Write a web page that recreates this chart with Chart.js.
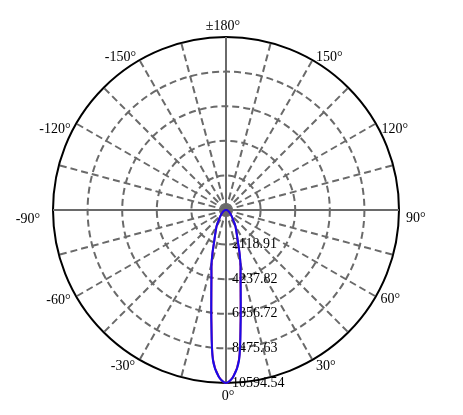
<!DOCTYPE html>
<html>
<head>
<meta charset="utf-8">
<script src="https://cdn.jsdelivr.net/npm/chart.js@4.4.1/dist/chart.umd.min.js"></script>
<style>
html,body{margin:0;padding:0;background:#fff;}
canvas{display:block;}
</style>
</head>
<body>
<canvas id="c" width="463" height="415"></canvas>
<script>
// Gamma angles (deg) of the measured half-profile
const GAMMA = [0,2.5,5,7.5,10,12.5,15,17.5,20,22.5,25,27.5,30,32.5,35,37.5,40,42.5,45,47.5,50,52.5,55,57.5,60,62.5,65,67.5,70,72.5,75,77.5,80,82.5,85,87.5,90,92.5,95,97.5,100,102.5,105,107.5,110,112.5,115,117.5,120,122.5,125,127.5,130,132.5,135,137.5,140,142.5,145,147.5,150,152.5,155,157.5,160,162.5,165,167.5,170,172.5,175,177.5,180];
// Luminous intensity (cd), C90-C270 plane (blue)
const C90_CD = [10595,10224,9217,6886,5191,4132,3443,2755,2172,1801,1536,1324,1165,975,795,678,583,509,445,392,339,297,265,233,212,180,159,138,127,106,95,80,64,53,42,32,21,11,5,2,0,0,0,0,0,0,0,0,0,0,0,0,0,0,0,0,0,0,0,0,0,0,0,0,0,0,0,0,0,0,0,0,0];
// Luminous intensity (cd), C0-C180 plane (red)
const C0_CD = [10595,10205,9170,6830,5140,4090,3410,2730,2150,1785,1522,1312,1155,966,788,672,578,505,441,389,336,295,263,231,210,178,158,137,126,105,94,79,63,52,41,31,20,10,5,2,0,0,0,0,0,0,0,0,0,0,0,0,0,0,0,0,0,0,0,0,0,0,0,0,0,0,0,0,0,0,0,0,0];
// Radial ticks (cd)
const RADIAL_TICKS = [0, 2118.91, 4237.82, 6356.72, 8475.63, 10594.54];
const TICK_TEXT = ['', '2118.91', '4237.82', '6356.72', '8475.63', '10594.54'];
// Angles that get a text label
const ANGLE_LABELS = [180, 150, 120, 90, 60, 30, 0, -30, -60, -90, -120, -150];
const ANGLE_STEP = 2.5;

// small per-label text nudges [dx, dy] (layout only)
const NUDGE = {
  '180': [-3, -1], '0': [2, 3],
  '150': [2, 0], '120': [3, 7], '90': [4, 8], '60': [2, 1], '30': [2, 4],
  '-150': [-2, 0], '-120': [-3, 7], '-90': [-10, 9], '-60': [-3, 2], '-30': [-3, 4]
};

// Build labels clockwise from the top (±180°)
const thetas = [];
for (let k = 0; k * ANGLE_STEP < 360; k++) thetas.push(180 - k * ANGLE_STEP);
const lookup = (arr, t) => arr[GAMMA.indexOf(Math.abs(t))];
const blueData = thetas.map(t => lookup(C90_CD, t));
const redData = thetas.map(t => lookup(C0_CD, t));
const lastTick = RADIAL_TICKS.length - 1;
const FONT = '"Liberation Serif", "Times New Roman", serif';

const textPlugin = {
  id: 'polarText',
  beforeDatasetsDraw(chart) {
    const s = chart.scales.r;
    const ctx = chart.ctx;
    ctx.save();
    ctx.fillStyle = '#000';
    ctx.font = '14px ' + FONT;
    ctx.textAlign = 'left';
    ctx.textBaseline = 'middle';
    const i0 = thetas.indexOf(0);
    RADIAL_TICKS.forEach((v, j) => {
      if (!TICK_TEXT[j]) return;
      const p = s.getPointPosition(i0, s.getDistanceFromCenterForValue(v));
      ctx.fillText(TICK_TEXT[j], p.x + 6, p.y);
    });
    ANGLE_LABELS.forEach(a => {
      const i = thetas.indexOf(a);
      const p = s.getPointPosition(i, s.drawingArea + 3);
      const txt = a === 180 ? '±180°' : a + '°';
      const [dx, dy] = NUDGE[String(a)];
      if (a === 180) { ctx.textAlign = 'center'; ctx.textBaseline = 'bottom'; }
      else if (a === 0) { ctx.textAlign = 'center'; ctx.textBaseline = 'top'; }
      else if (a > 0) { ctx.textAlign = 'left'; ctx.textBaseline = 'middle'; }
      else { ctx.textAlign = 'right'; ctx.textBaseline = 'middle'; }
      ctx.fillText(txt, p.x + dx, p.y + dy);
    });
    ctx.restore();
  }
};

new Chart(document.getElementById('c'), {
  type: 'radar',
  data: {
    labels: thetas.map(t => t + '°'),
    datasets: [
      { label: 'C90-C270', data: blueData, borderColor: '#1a0ae8', borderWidth: 2, pointRadius: 0, fill: false, tension: 0.3 },
      { label: 'C0-C180', data: redData, borderColor: '#b01070', borderWidth: 2, pointRadius: 0, fill: false, tension: 0.3 }
    ]
  },
  options: {
    responsive: false,
    animation: false,
    layout: { padding: { left: 53, right: 64, top: 37, bottom: 32 } },
    plugins: { legend: { display: false }, tooltip: { enabled: false } },
    scales: {
      r: {
        min: 0,
        max: RADIAL_TICKS[lastTick],
        startAngle: 0,
        afterBuildTicks: s => { s.ticks = RADIAL_TICKS.map(v => ({ value: v })); },
        ticks: { display: false },
        pointLabels: { display: false },
        grid: {
          circular: true,
          color: c => c.index === lastTick ? '#000' : '#6a6a6a',
          lineWidth: 2
        },
        border: { dash: c => c.index === lastTick ? [] : [7, 4] },
        angleLines: {
          display: true,
          color: c => (thetas[c.index] % 15 === 0) ? '#6a6a6a' : 'rgba(0,0,0,0)',
          lineWidth: c => (thetas[c.index] % 15 === 0) ? 2 : 0,
          borderDash: c => (thetas[c.index] % 90 === 0) ? [] : [7, 4]
        }
      }
    }
  },
  plugins: [textPlugin]
});
</script>
</body>
</html>
